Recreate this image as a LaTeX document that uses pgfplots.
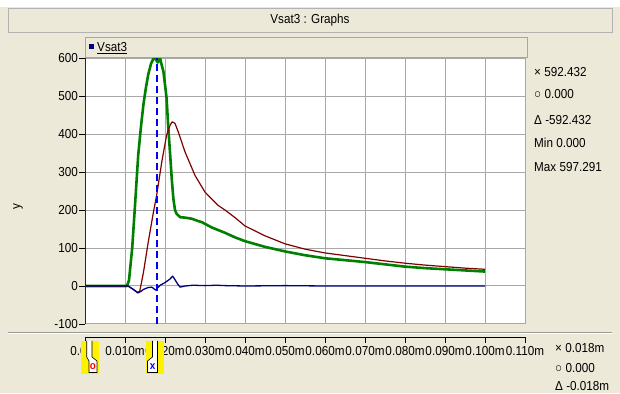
\documentclass[border=0pt]{standalone}
\usepackage{fontspec}
\setmainfont{Liberation Sans}[FakeStretch=0.9]
\usepackage{pgfplots}
\pgfplotsset{compat=1.18}
\definecolor{bg}{HTML}{ECE9D8}
\definecolor{gridc}{HTML}{A8A8A8}
\definecolor{grn}{HTML}{008000}
\definecolor{dred}{HTML}{800000}
\definecolor{navy}{HTML}{000080}
\definecolor{curblue}{HTML}{0000FF}
\newcommand{\fs}{\fontsize{13}{15}\selectfont}
\begin{document}
\begin{tikzpicture}[x=1pt,y=1pt,font=\fs]
\useasboundingbox (0,0) rectangle (620,393);
\fill[bg] (0,0) rectangle (620,393);
\fill[white] (0,386) rectangle (620,393);
% title bar
\draw[gray!60,fill=bg] (8,361) rectangle (612,385);
\node at (310,373) {Vsat3 : Graphs};
% legend bar
\draw[gray!70,fill=bg] (85,336) rectangle (527,356);
\fill[navy] (88.5,343.5) rectangle (93.5,348.5);
\node[anchor=base west,inner sep=0pt] at (97,341.5) {\underline{Vsat3}};
% main axis
\begin{axis}[at={(85pt,69pt)}, anchor=south west, scale only axis,
  width=440pt, height=266pt,
  xmin=0, xmax=0.11, ymin=-100, ymax=600,
  axis background/.style={fill=white},
  grid=major, grid style={gridc, line width=1pt},
  xtick={0,0.01,0.02,0.03,0.04,0.05,0.06,0.07,0.08,0.09,0.10,0.11},
  xticklabels=\empty, x tick style={draw=none},
  ytick={-100,0,100,200,300,400,500,600},
  yticklabels={-100,0,100,200,300,400,500,600},
  ytick pos=left, tick align=outside, major tick length=6pt,
  y tick style={black, line width=0.8pt},
  axis line style={gridc, line width=1pt},
  yticklabel style={font=\fs, inner sep=1pt},
]
\addplot[grn, line width=2.6pt, line join=round] coordinates {
(0,0)(0.0105,0)(0.0110,15)(0.0118,100)(0.0125,212)(0.0133,344)(0.0140,420)
(0.0146,477)(0.0152,520)(0.0158,556)(0.0165,585)(0.0171,598)(0.0175,600)
(0.0179,593)(0.0182,588)(0.0185,600)(0.0188,598)(0.0192,580)(0.0196,565)
(0.0200,530)(0.0204,494)(0.0208,420)(0.0213,344)(0.0217,280)(0.0221,229)
(0.0225,200)(0.0229,190)(0.0238,181)(0.0250,180)(0.0267,177)(0.0280,172)
(0.0292,168)(0.0317,154)(0.0350,140)(0.0375,128)(0.0400,118)(0.0450,103)
(0.0500,91)(0.0550,81)(0.0600,73)(0.0650,68)(0.0700,63)(0.0750,57)
(0.0800,51)(0.0850,47)(0.0900,44)(0.0950,41)(0.1000,38)};
\addplot[dred, line width=1.2pt, line join=round] coordinates {
(0,0)(0.0107,0)(0.0115,-5)(0.0121,-9)(0.0131,-18)(0.0137,-13)(0.0146,35)
(0.0158,115)(0.0171,194)(0.0179,238)(0.0192,327)(0.0204,397)(0.0213,424)
(0.0218,432)(0.0225,428)(0.0233,406)(0.0250,353)(0.0275,291)(0.0300,247)
(0.0333,212)(0.0350,200)(0.0375,180)(0.0400,158)(0.0450,132)(0.0500,111)
(0.0550,97)(0.0600,87)(0.0650,80)(0.0700,73)(0.0750,66)(0.0800,60)
(0.0850,55)(0.0900,51)(0.0950,47)(0.1000,44)};
\addplot[navy, line width=1.3pt, line join=round] coordinates {
(0,0)(0.0108,0)(0.0115,-5)(0.0125,-12)(0.0133,-18)(0.0140,-14)(0.0146,-9)
(0.0158,-4)(0.0167,-3)(0.0177,-11)(0.0183,-3)(0.0188,2)(0.0200,9)
(0.0212,18)(0.0219,26)(0.0223,20)(0.0227,13)(0.0233,3)(0.0238,-3)
(0.0250,0)(0.0270,2)(0.0300,1)(0.0330,2)(0.0350,1)(0.0400,0)(0.0500,1)
(0.0600,0)(0.1000,0)};
\addplot[draw=curblue, dash pattern=on 7pt off 4pt, line width=1.2pt] coordinates {(0.018,-100)(0.018,600)};
\draw[dred, line width=1pt] (rel axis cs:0,0) -- (rel axis cs:0,1);
\end{axis}
% separator
\draw[gray!80, line width=1.5pt] (8,60.5) -- (612,60.5);
\draw[white, line width=1pt] (8,59) -- (612,59);
% strip axis
\begin{axis}[at={(85pt,56pt)}, anchor=south west, scale only axis,
  width=440pt, height=10pt,
  xmin=0, xmax=0.11, ymin=0, ymax=1,
  axis y line=none, axis x line*=bottom,
  x axis line style={black, line width=0.8pt, -},
  xtick={0,0.01,0.02,0.03,0.04,0.05,0.06,0.07,0.08,0.09,0.10,0.11},
  xticklabels={0.000,0.010m,0.020m,0.030m,0.040m,0.050m,0.060m,0.070m,0.080m,0.090m,0.100m,0.110m},
  tick align=outside, major tick length=6pt,
  x tick style={black, line width=0.8pt},
  xticklabel style={font=\fs, anchor=north, inner sep=0pt, yshift=-3pt},
]
\addplot[draw=none] coordinates {(0,0)(0.11,0)};
\end{axis}
% cursor markers
\fill[yellow] (80.5,19) rectangle (98.5,52);
\draw[black, fill=white, line width=0.6pt] (86.7,52) -- (86.7,36) -- (89,32) -- (89,20.5) -- (97,20.5) -- (97,32) -- (92,36) -- (92,52);
\node[red, inner sep=0pt, font=\bfseries\fontsize{11}{11}\selectfont] at (93,26.5) {o};
\fill[yellow] (146,19) rectangle (164,52);
\draw[black, fill=white, line width=0.6pt] (157.5,52) -- (157.5,36) -- (157.5,20.5) -- (147.5,20.5) -- (147.5,32) -- (152.5,36) -- (152.5,52);
\node[curblue, inner sep=0pt, font=\bfseries\fontsize{11}{11}\selectfont] at (152.5,26.5) {x};
% y label
\node[rotate=90] at (18,186) {y};
% right panel
\node[anchor=west, inner sep=0pt] at (534,321) {× 592.432};
\node[anchor=west, inner sep=0pt] at (534,299) {○ 0.000};
\node[anchor=west, inner sep=0pt] at (534,273) {Δ -592.432};
\node[anchor=west, inner sep=0pt] at (534,250) {Min 0.000};
\node[anchor=west, inner sep=0pt] at (534,226) {Max 597.291};
% bottom right
\node[anchor=west, inner sep=0pt] at (555,45) {× 0.018m};
\node[anchor=west, inner sep=0pt] at (555,25) {○ 0.000};
\node[anchor=west, inner sep=0pt] at (555,7) {Δ -0.018m};
\end{tikzpicture}
\end{document}
